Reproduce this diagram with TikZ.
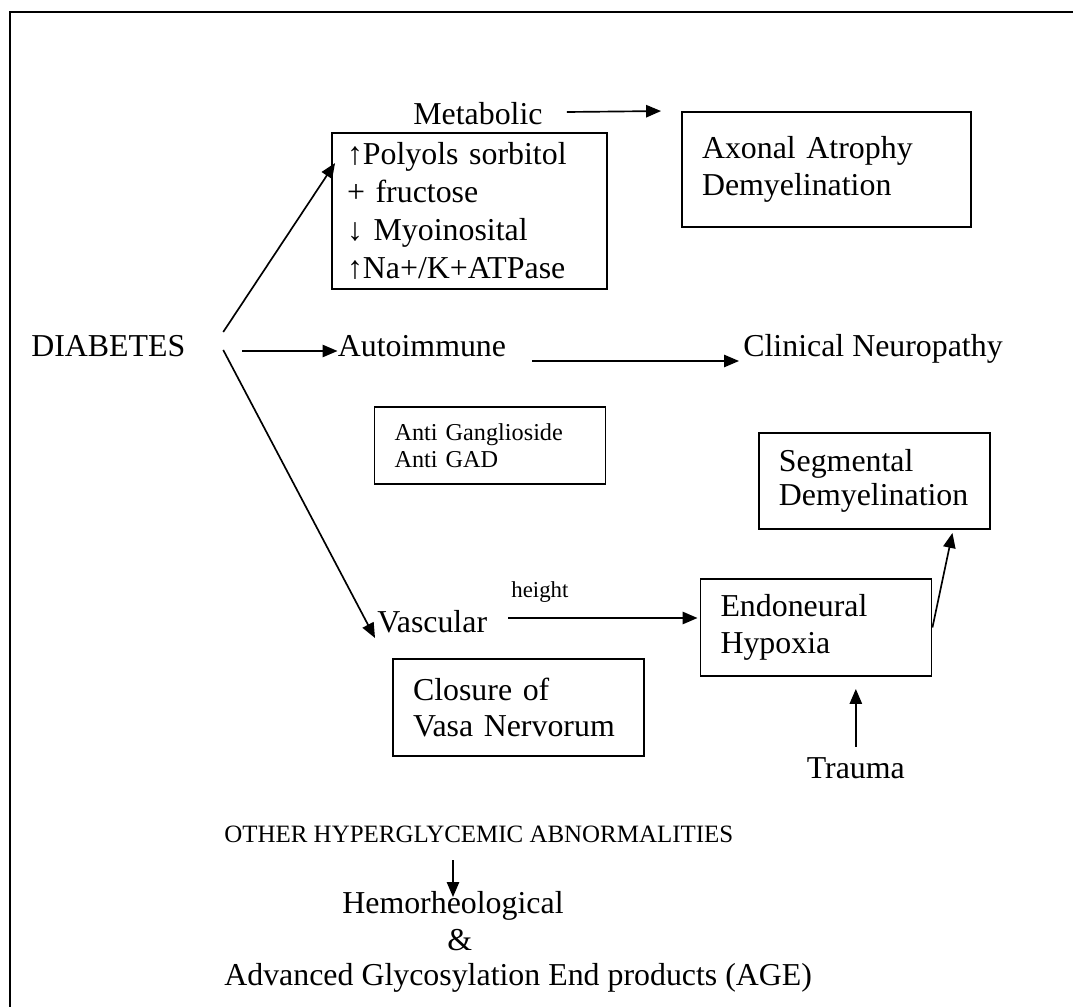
\documentclass[tikz,border=0pt]{standalone}
\usepackage{fontspec}
\setmainfont{Liberation Serif}
\usetikzlibrary{arrows.meta}

\begin{document}
\begin{tikzpicture}
[x=0.02cm,y=-0.02cm,
 >={Triangle[length=8.5pt,width=7pt]},
 every node/.style={inner sep=0pt},
 big/.style={font=\fontsize{18.14}{21}\selectfont},
 small/.style={font=\fontsize{13.8}{15.4}\selectfont},
 txt/.style={big,anchor=base west},
 box/.style={draw,line width=1.1pt,big,align=left,inner xsep=0.4cm,text width=3.82cm},
 link/.style={->,line width=0.95pt}]
\useasboundingbox (0,0) rectangle (1073,1007);
% frame
\draw[line width=1.7pt] (10,1007) -- (10,12) -- (1073,12);

\node[txt] (diab) at (31,357) {DIABETES};
\node[txt] (metab) at (413,125) {Metabolic};
\node[txt] (autoim) at (337.5,357) {Autoimmune};
\node[txt] (clin) at (743,357) {Clinical Neuropathy};
\node[txt] (vasc) at (377,632) {Vascular};
\node[txt,font=\fontsize{13}{15}\selectfont] (hgt) at (511,597) {height};
\node[txt] (trauma) at (806.5,778) {Trauma};

% boxes
\node[box,text width=4.9cm,inner xsep=0.3cm,minimum height=3.12cm,font=\fontsize{18.14}{21.6}\selectfont]
  (polybox) at (469.5,211) {↑Polyols sorbitol\\+ fructose\\↓ Myoinosital\\↑Na+/K+ATPase};
\node[box,text width=4.98cm,minimum height=2.3cm] (axbox) at (826.5,169.5) {Axonal Atrophy\\Demyelination};
\node[box,small,minimum height=1.54cm] (antibox) at (490,445.5) {Anti Ganglioside\\Anti GAD};
\node[box,minimum height=1.92cm,font=\fontsize{18.14}{19}\selectfont] (segbox) at (874.4,481) {Segmental\\Demyelination};
\node[box,minimum height=1.94cm] (endobox) at (816,627.5) {Endoneural\\Hypoxia};
\node[box,text width=4.22cm,minimum height=1.94cm] (closbox) at (518.5,707.5) {Closure of\\Vasa Nervorum};

% bottom part
\node[txt,font=\fontsize{14.2}{16}\selectfont] (other) at (224,842) {OTHER HYPERGLYCEMIC ABNORMALITIES};
\node[txt] (hemo) at (342,913) {Hemorheological};
\node[txt] (amp) at (447,950) {\&};
\node[txt] (age) at (224,985) {Advanced Glycosylation End products (AGE)};

% arrows
\draw[link] ([shift={(37.5,-25)}]diab.base east) -- ([shift={(4,31)}]polybox.north west);
\draw[link] ([shift={(56.5,-6)}]diab.base east) -- ([shift={(0,-6)}]autoim.base west);
\draw[link] ([shift={(37.5,-7)}]diab.base east) -- ([shift={(-2,6)}]vasc.base west);
\draw[link] ([shift={(24,-13)}]metab.base east) -- ([shift={(-20,0)}]axbox.north west);
\draw[link] ([shift={(25.6,4)}]autoim.base east) -- ([shift={(-4,4)}]clin.base west);
\draw[link] ([shift={(21,-14)}]vasc.base east) -- ([shift={(-2,-9.5)}]endobox.west);
\draw[link] (endobox.east) -- ([shift={(-38.4,3)}]segbox.south east);
\draw[link,shorten <=0.2cm,shorten >=0.24cm] (trauma.north) -- (trauma.north |- endobox.south);
\draw[link] ([shift={(229,18)}]other.base west) -- ([shift={(111,-16)}]hemo.base west);
\end{tikzpicture}
\end{document}
